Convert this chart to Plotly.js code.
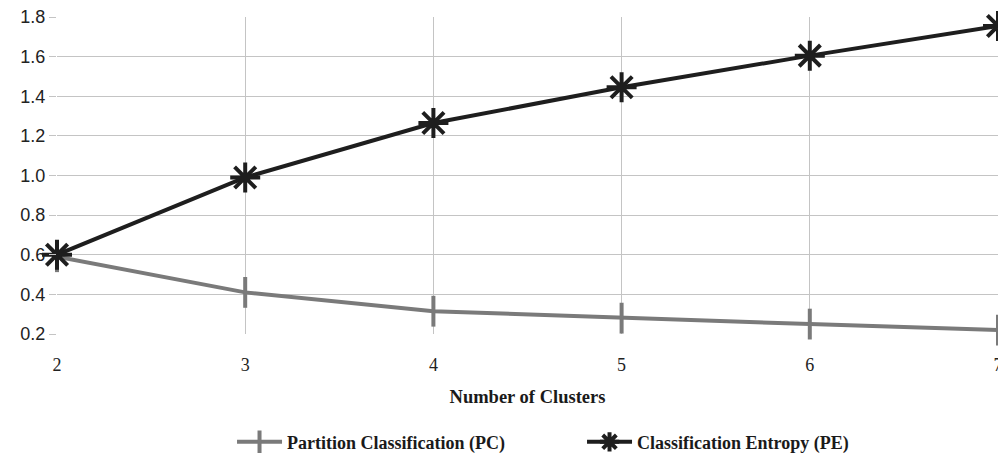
<!DOCTYPE html>
<html>
<head>
<meta charset="utf-8">
<script src="https://cdn.plot.ly/plotly-3.0.1.min.js"></script>
<style>html,body{margin:0;padding:0;background:#fff;}#chart{width:998px;height:457px;}</style>
</head>
<body>
<div id="chart"></div>
<script>
var clusters = [2, 3, 4, 5, 6, 7];
var pcValues = [0.59, 0.41, 0.315, 0.28, 0.25, 0.22];
var peValues = [0.60, 0.99, 1.265, 1.445, 1.605, 1.755];
var seriesNames = ['Partition Classification (PC)', 'Classification Entropy (PE)'];
var yTicks = [0.2, 0.4, 0.6, 0.8, 1.0, 1.2, 1.4, 1.6, 1.8];
var yTickText = ['0.2', '0.4', '0.6', '0.8', '1.0', '1.2', '1.4', '1.6', '1.8'];

var traces = [
  {
    x: clusters, y: pcValues, name: seriesNames[0], type: 'scatter', mode: 'lines+markers',
    line: {color: '#7a7a7a', width: 4},
    marker: {symbol: 'line-ns-open', size: 22, line: {color: '#7a7a7a', width: 4}, color: '#7a7a7a'},
    cliponaxis: false
  },
  {
    x: clusters, y: peValues, name: seriesNames[1], type: 'scatter', mode: 'lines+markers',
    line: {color: '#1e1e1e', width: 4},
    marker: {symbol: 'asterisk-open', size: 25, line: {color: '#1e1e1e', width: 4}, color: '#1e1e1e'},
    cliponaxis: false
  }
];

var layout = {
  width: 998, height: 457,
  margin: {l: 57, r: 0, t: 17, b: 123, autoexpand: false},
  paper_bgcolor: '#ffffff', plot_bgcolor: '#ffffff',
  showlegend: true,
  legend: {
    orientation: 'h', x: 0.186, xanchor: 'left', y: -0.341, yanchor: 'middle',
    font: {family: 'Liberation Serif, Times New Roman, serif', size: 18, color: '#1a1a1a', weight: 'bold'},
    itemwidth: 45, entrywidth: 290, entrywidthmode: 'pixels', tracegroupgap: 0, traceorder: 'normal'
  },
  xaxis: {
    range: [2, 7], tickvals: clusters, ticktext: clusters.map(String),
    showgrid: true, gridcolor: '#c4c4c4', gridwidth: 1,
    zeroline: false, showline: false, automargin: false,
    ticks: '', ticklabelstandoff: 18, ticklabeloverflow: 'allow',
    tickfont: {family: 'Liberation Serif, Times New Roman, serif', size: 18, color: '#222'},
    title: {text: '<b>Number of Clusters</b>', font: {family: 'Liberation Serif, Times New Roman, serif', size: 18.5, color: '#1a1a1a'}, standoff: 16}
  },
  yaxis: {
    range: [0.2, 1.8], tickvals: yTicks, ticktext: yTickText,
    showgrid: true, gridcolor: '#c4c4c4', gridwidth: 1,
    zeroline: false, showline: false, automargin: false,
    ticks: 'outside', ticklen: 7, tickcolor: '#c4c4c4',
    tickfont: {family: 'Liberation Sans, Arial, sans-serif', size: 18, color: '#222'}
  }
};

Plotly.newPlot('chart', traces, layout, {displayModeBar: false, staticPlot: true});
</script>
</body>
</html>
